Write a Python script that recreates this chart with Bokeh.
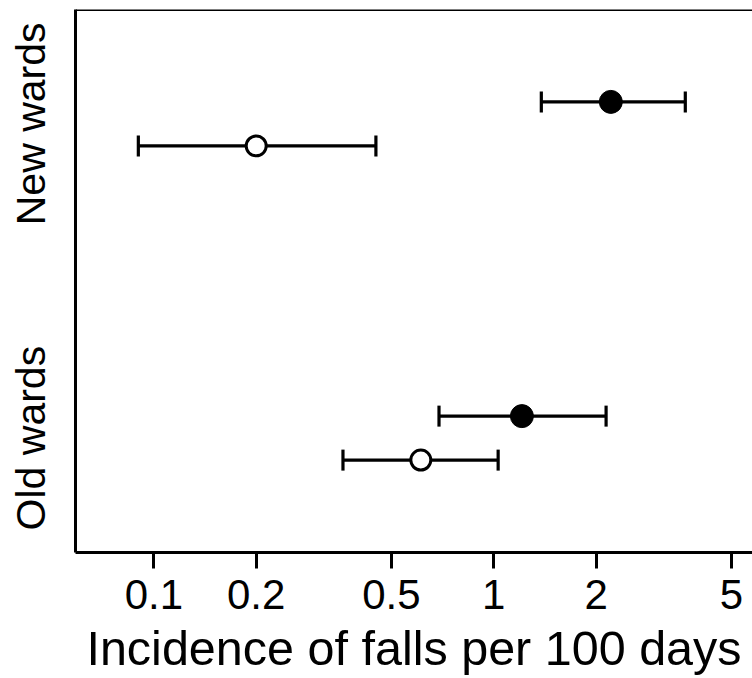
import math
from bokeh.plotting import figure
from bokeh.models import (Range1d, FixedTicker, CustomJSTickFormatter, Whisker,
                          TeeHead, ColumnDataSource, Span)
from bokeh.embed import file_html
from bokeh.resources import INLINE

# ---- data ----
groups = ["New wards", "Old wards"]
group_pos = [2, 1]
offset = 0.07
# filled markers (upper row in each group)
filled_est = [2.21, 1.21]
filled_lo = [1.38, 0.69]
filled_hi = [3.66, 2.14]
# open markers (lower row in each group)
open_est = [0.20, 0.61]
open_lo = [0.090, 0.36]
open_hi = [0.45, 1.03]
x_ticks = [0.1, 0.2, 0.5, 1, 2, 5]
x_label = "Incidence of falls per 100 days"

FONT = "Liberation Sans"

p = figure(width=752, height=678, x_axis_type="log",
           x_range=Range1d(0.0588, 5.77), y_range=Range1d(0.636, 2.364),
           output_backend="svg", toolbar_location=None,
           min_border_left=75, min_border_right=0, min_border_top=9,
           min_border_bottom=126)
p.outline_line_color = None
p.grid.visible = False
p.background_fill_color = "white"
p.border_fill_color = "white"

# x axis
xa = p.xaxis[0]
xa.ticker = FixedTicker(ticks=x_ticks)
xa.formatter = CustomJSTickFormatter(code="return tick.toString();")
xa.minor_tick_line_color = None
xa.major_tick_in = 0
xa.major_tick_out = 16
xa.major_tick_line_width = 3
xa.axis_line_width = 3
xa.major_label_text_font = FONT
xa.major_label_text_font_size = "42px"
xa.major_label_text_color = "black"
xa.major_label_standoff = 11
xa.axis_label = x_label
xa.axis_label_text_font = FONT
xa.axis_label_text_font_size = "48.5px"
xa.axis_label_text_font_style = "normal"
xa.axis_label_text_color = "black"
xa.axis_label_standoff = 9

# y axis
ya = p.yaxis[0]
ya.ticker = FixedTicker(ticks=group_pos)
ya.major_label_overrides = {2: "New wards", 1: "Old wards"}
ya.major_label_orientation = "vertical"
ya.minor_tick_line_color = None
ya.major_tick_in = 0
ya.major_tick_out = 0
ya.axis_line_width = 3
ya.major_label_text_font = FONT
ya.major_label_text_font_size = "41px"
ya.major_label_text_color = "black"
ya.major_label_standoff = 21

# top border line
p.add_layout(Span(location=2.364, dimension="width", line_color="black", line_width=3))

fy = [g + offset for g in group_pos]
oy = [g - offset for g in group_pos]
src_f = ColumnDataSource(dict(x=filled_est, lo=filled_lo, hi=filled_hi, y=fy))
src_o = ColumnDataSource(dict(x=open_est, lo=open_lo, hi=open_hi, y=oy))

for src in (src_f, src_o):
    w = Whisker(source=src, base="y", lower="lo", upper="hi", dimension="width",
                line_color="black", line_width=3.2,
                lower_head=TeeHead(size=21, line_width=3.2, line_color="black"),
                upper_head=TeeHead(size=21, line_width=3.2, line_color="black"))
    p.add_layout(w)

p.scatter("x", "y", source=src_f, size=23, fill_color="black", line_color="black", line_width=1)
p.scatter("x", "y", source=src_o, size=20, fill_color="white", line_color="black", line_width=3)

open("out.html", "w").write(file_html(p, INLINE))
